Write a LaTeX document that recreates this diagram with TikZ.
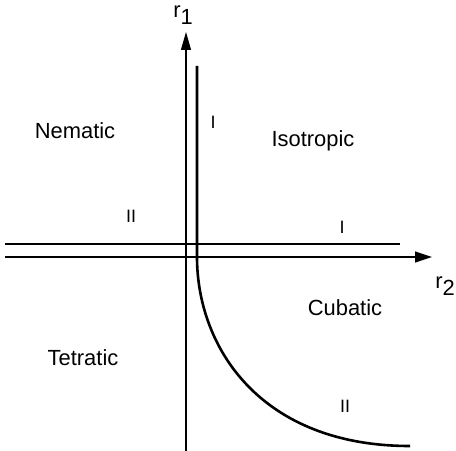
\documentclass[tikz,border=0pt]{standalone}
\usepackage{fontspec}
\setmainfont{Liberation Sans}
\usetikzlibrary{arrows.meta}

\begin{document}
\begin{tikzpicture}[x=1bp,y=-1bp,
    phase/.style={anchor=base,font=\fontsize{22}{26}\selectfont},
    branch/.style={font=\fontsize{18}{20}\selectfont},
    axislabel/.style={font=\fontsize{22}{26}\selectfont},
    thinline/.style={line width=1.2bp},
    thickline/.style={line width=2.6bp}]
\useasboundingbox (0,0) rectangle (456,451);
% axes
\coordinate (xstart) at (5,257);
\coordinate (xend) at (432,257);
\coordinate (ystart) at (186,451);
\coordinate (yend) at (186,32);
\draw[thinline,-{Triangle[length=17bp,width=11bp]}] (xstart) -- (xend);
\draw[thinline,-{Triangle[length=18bp,width=10bp]}] (ystart) -- (yend);
\node[axislabel] (r1) at (183,15) {r\raisebox{-0.35em}{1}};
\node[axislabel] (r2) at (445,286) {r\raisebox{-0.35em}{2}};
% phase boundaries
\coordinate (hstart) at (5,244);
\coordinate (hend) at (400,244);
\coordinate (vtop) at (197,66);
\coordinate (vknee) at (197,257);
\coordinate (cend) at (410,446);
\draw[thickline] (hstart) -- (hend);
\draw[thickline] (vtop) -- (vknee) .. controls (197,347) and (260,446) .. (cend);
% phases
\node[phase] (nematic) at (75,139) {Nematic};
\node[phase] (isotropic) at (313,147) {Isotropic};
\node[phase] (cubatic) at (345,315) {Cubatic};
\node[phase] (tetratic) at (83,365) {Tetratic};
% transition orders
\node[branch] (orderA) at (213,122) {I};
\node[branch] (orderB) at (131,216) {II};
\node[branch] (orderC) at (342,227) {I};
\node[branch] (orderD) at (345,406) {II};
\end{tikzpicture}
\end{document}
